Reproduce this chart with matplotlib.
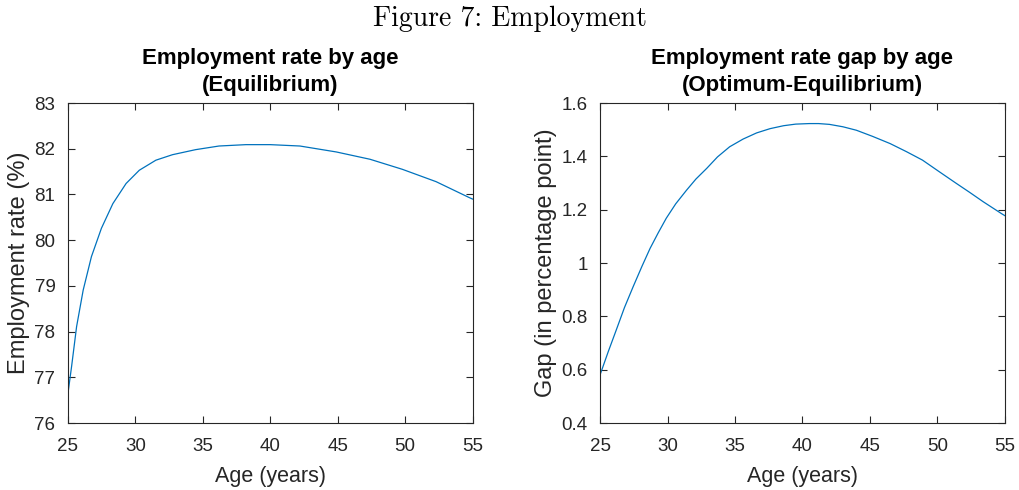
import matplotlib
matplotlib.use("Agg")
from matplotlib import pyplot as plt

# values
age_emp = [25, 25.27, 25.64, 26.13, 26.74, 27.48, 28.33, 29.31, 30.29, 31.52, 32.75, 34.46,
           36.2, 38.2, 40, 42.2, 44.9, 47.4, 49.8, 52.3, 54.7, 55]
emp_rate = [76.65, 77.24, 78.11, 78.91, 79.64, 80.26, 80.80, 81.24, 81.53, 81.75, 81.87, 81.98,
            82.06, 82.09, 82.09, 82.06, 81.93, 81.77, 81.55, 81.28, 80.94, 80.90]

age_gap = [25, 25.6, 26.2, 26.8, 27.45, 28.1, 28.7, 29.3, 29.9, 30.6, 31.4, 32.1, 32.9,
           33.7, 34.6, 35.6, 36.6, 37.6, 38.6, 39.5, 40.5, 41.2, 42.0, 43.0, 44.0, 45.2,
           46.5, 47.7, 48.9, 50.1, 51.4, 52.4, 53.4, 54.1, 54.8, 55]
gap = [0.582, 0.668, 0.75, 0.833, 0.912, 0.988, 1.055, 1.113, 1.168, 1.222, 1.273, 1.315, 1.355,
       1.398, 1.436, 1.465, 1.488, 1.504, 1.515, 1.521, 1.523, 1.523, 1.52, 1.511, 1.498, 1.475,
       1.448, 1.418, 1.386, 1.344, 1.299, 1.265, 1.23, 1.207, 1.184, 1.178]

xticks = [25, 30, 35, 40, 45, 50, 55]
yticks_emp = [76, 77, 78, 79, 80, 81, 82, 83]
yticks_gap = [0.4, 0.6, 0.8, 1, 1.2, 1.4, 1.6]
ytick_gap_labels = ['0.4', '0.6', '0.8', '1', '1.2', '1.4', '1.6']

plt.rcParams['font.family'] = ['Liberation Sans', 'DejaVu Sans']
line_col = '#0072BD'
axis_col = '#262626'

fig = plt.figure(figsize=(10.19, 4.9), dpi=100)
ax1 = fig.add_axes([0.0667, 0.1367, 0.397, 0.653])
ax2 = fig.add_axes([0.589, 0.1367, 0.397, 0.653])


def style(ax):
    ax.tick_params(direction='in', top=True, right=True, length=5, width=0.8,
                   colors=axis_col, labelsize=13.5)
    ax.tick_params(axis='x', pad=11)
    ax.tick_params(axis='y', pad=9)
    for s in ax.spines.values():
        s.set_color(axis_col)
        s.set_linewidth(0.8)


ax1.plot(age_emp, emp_rate, color=line_col, lw=0.9)
ax1.set_xlim(25, 55)
ax1.set_ylim(76, 83)
ax1.set_xticks(xticks)
ax1.set_yticks(yticks_emp)
ax1.set_xlabel('Age (years)', fontsize=15.5, color=axis_col, labelpad=8)
ax1.set_ylabel('Employment rate (%)', fontsize=17, color=axis_col, labelpad=3)
ax1.set_title('Employment rate by age\n(Equilibrium)', fontsize=16, fontweight='bold',
              linespacing=1.35, pad=9)
style(ax1)

ax2.plot(age_gap, gap, color=line_col, lw=0.9)
ax2.set_xlim(25, 55)
ax2.set_ylim(0.4, 1.6)
ax2.set_xticks(xticks)
ax2.set_yticks(yticks_gap)
ax2.set_yticklabels(ytick_gap_labels)
ax2.set_xlabel('Age (years)', fontsize=15.5, color=axis_col, labelpad=8)
ax2.set_ylabel('Gap (in percentage point)', fontsize=17, color=axis_col, labelpad=3)
ax2.set_title('Employment rate gap by age\n(Optimum-Equilibrium)', fontsize=16,
              fontweight='bold', linespacing=1.35, pad=9)
style(ax2)

fig.text(0.5, 0.962, 'Figure 7: Employment', ha='center', va='center',
         fontsize=20, family='cmr10')

fig.savefig('out.png', dpi=100)
